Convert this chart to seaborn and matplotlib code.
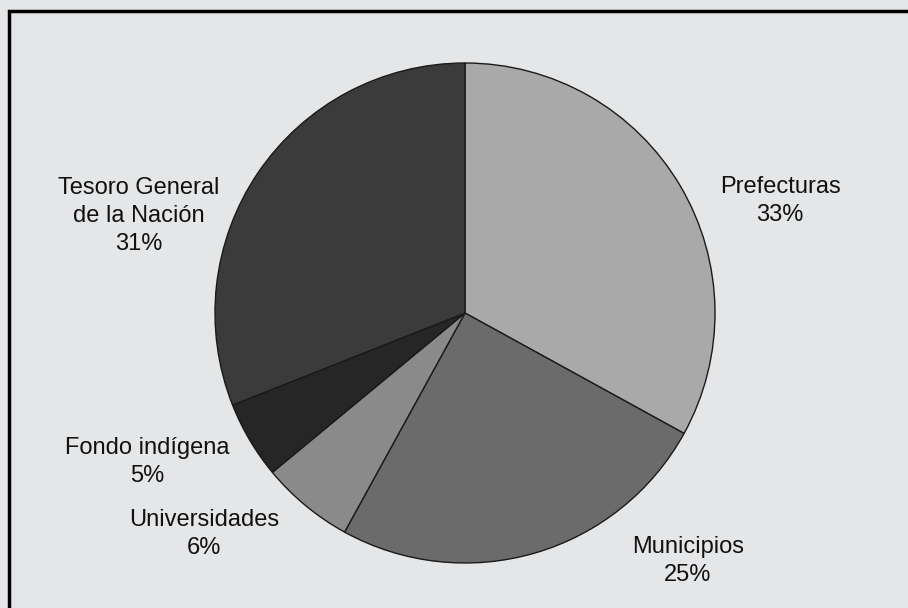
import matplotlib
matplotlib.use("Agg")
import matplotlib.pyplot as plt
import seaborn as sns
from matplotlib.patches import Rectangle

sns.set_theme(style="white")
plt.rcParams["font.family"] = ["Liberation Sans", "DejaVu Sans"]

# Datos
categorias = ["Prefecturas", "Municipios", "Universidades", "Fondo indígena",
              "Tesoro General\nde la Nación"]
porcentajes = [33, 25, 6, 5, 31]
colores = ["#a9a9a9", "#6b6b6b", "#8a8a8a", "#262626", "#3b3b3b"]

# posiciones de etiquetas (pixeles, origen abajo-izquierda)
pos_etiquetas = [(780, 407), (688, 47), (204, 74), (147, 146), (139, 392)]

W, H = 908, 608
fig = plt.figure(figsize=(W / 100, H / 100), dpi=100)
fig.patch.set_facecolor("#e5e6e8")
ax = fig.add_axes([0, 0, 1, 1])
ax.set_facecolor("#e5e6e8")

ax.pie(
    porcentajes,
    colors=colores,
    startangle=90,
    counterclock=False,
    center=(465, H - 313),
    radius=250,
    frame=True,
    wedgeprops={"edgecolor": "#1a1a1a", "linewidth": 1.0},
)

for cat, pct, (x, y) in zip(categorias, porcentajes, pos_etiquetas):
    ax.text(x, y, f"{cat}\n{pct}%", ha="center", va="center",
            fontsize=17, color="#111111", linespacing=1.35)

ax.set_xlim(0, W)
ax.set_ylim(0, H)
ax.set_aspect("equal")
ax.axis("off")

# marco
fig.patches.append(Rectangle((9 / W, -0.1), 1.2, (H - 11) / H + 0.1,
                             transform=fig.transFigure, fill=False,
                             edgecolor="black", linewidth=2.5))

fig.savefig("out.png", dpi=100, facecolor=fig.get_facecolor())
